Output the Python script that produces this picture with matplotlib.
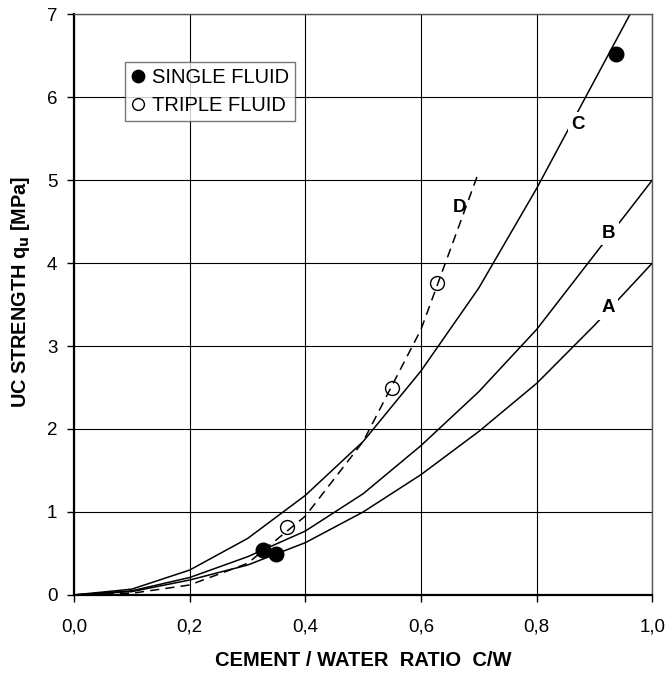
import matplotlib.pyplot as plt

# curves A, B, C (solid) and D (dashed)
x_abc = [0.0, 0.1, 0.2, 0.3, 0.4, 0.5, 0.6, 0.7, 0.8, 0.9, 1.0]
curva_a = [0.0, 0.04, 0.18, 0.36, 0.63, 1.0, 1.45, 1.97, 2.55, 3.25, 4.0]
curva_b = [0.0, 0.05, 0.21, 0.46, 0.77, 1.22, 1.8, 2.45, 3.2, 4.1, 5.0]
curva_c = [0.0, 0.07, 0.3, 0.68, 1.2, 1.85, 2.7, 3.7, 4.9, 6.2, 7.5]
x_d = [0.0, 0.1, 0.2, 0.3, 0.4, 0.5, 0.6, 0.7]
curva_d = [0.0, 0.02, 0.12, 0.38, 0.95, 1.85, 3.2, 5.1]

# puntos medidos
single_x = [0.327, 0.349, 0.938]
single_y = [0.54, 0.49, 6.52]
triple_x = [0.369, 0.549, 0.628]
triple_y = [0.82, 2.49, 3.76]

etiquetas = ["A", "B", "C", "D"]
etiq_x = [0.923, 0.924, 0.872, 0.667]
etiq_y = [3.46, 4.36, 5.67, 4.67]

plt.rcParams['font.family'] = ['Liberation Sans', 'DejaVu Sans']

fig = plt.figure(figsize=(6.67, 6.73), dpi=100)
ax = fig.add_axes([0.111, 0.116, 0.867, 0.863])

ax.plot(x_abc, curva_a, color='black', lw=1.1, zorder=2)
ax.plot(x_abc, curva_b, color='black', lw=1.1, zorder=2)
ax.plot(x_abc, curva_c, color='black', lw=1.1, zorder=2)
ax.plot(x_d, curva_d, color='black', lw=1.1, ls=(0, (6, 4)), zorder=5)

for t, xx, yy in zip(etiquetas, etiq_x, etiq_y):
    ax.text(xx, yy, t, fontsize=13.5, fontweight='bold', ha='center', va='center',
            bbox=dict(facecolor='white', edgecolor='none', pad=2.5), zorder=3)

ax.plot(single_x, single_y, 'o', color='black', ms=10.5, label='SINGLE FLUID',
        zorder=4, clip_on=False)
ax.plot(triple_x, triple_y, 'o', mfc='none', mec='black', mew=1.0, ms=10,
        label='TRIPLE FLUID', zorder=4)

ax.set_xlim(0, 1.0)
ax.set_ylim(0, 7)
ax.set_xticks([0.0, 0.2, 0.4, 0.6, 0.8, 1.0])
ax.set_xticklabels(['0,0', '0,2', '0,4', '0,6', '0,8', '1,0'])
ax.set_yticks(range(0, 8))
ax.tick_params(axis='both', labelsize=13.5, direction='out', length=5,
               width=1, color='black')
ax.tick_params(axis='x', pad=12)
ax.tick_params(axis='y', pad=7)
ax.grid(True, color='black', lw=0.8)
ax.set_axisbelow(True)

for s in ['left', 'bottom']:
    ax.spines[s].set_linewidth(1.6)
for s in ['top', 'right']:
    ax.spines[s].set_linewidth(1.0)
    ax.spines[s].set_color('#555555')

ax.set_xlabel('CEMENT / WATER  RATIO  C/W', fontsize=14.5, fontweight='bold')
ax.set_ylabel(r'UC STRENGTH q$_\mathbf{u}$ [MPa]', fontsize=14.3, fontweight='bold')
ax.xaxis.set_label_coords(0.5, -0.096)
ax.yaxis.set_label_coords(-0.073, 0.521)

leg = ax.legend(loc='upper left', bbox_to_anchor=(0.088, 0.917), fontsize=14.5,
                frameon=True, fancybox=False, handlelength=0.65, handletextpad=0.4,
                borderpad=0.3, labelspacing=0.45, markerscale=0.85, borderaxespad=0)
leg.get_frame().set_edgecolor('#555555')
leg.get_frame().set_linewidth(1.0)

fig.savefig('out.png', dpi=100)
